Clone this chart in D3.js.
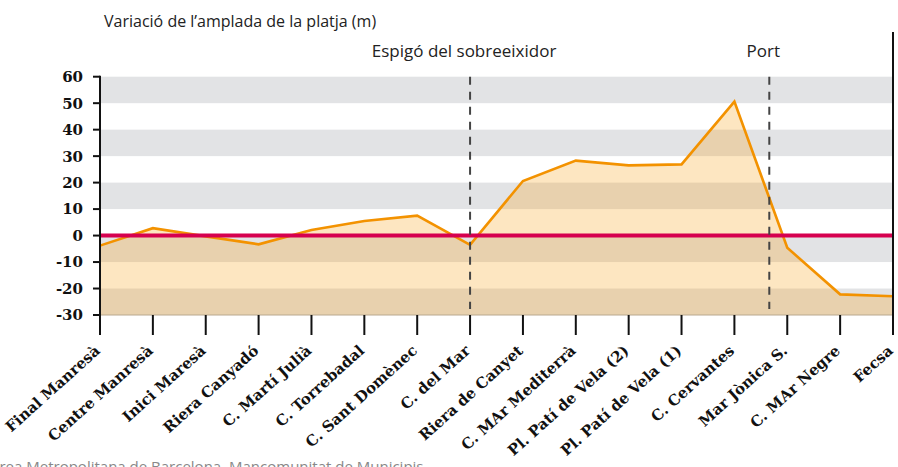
<!DOCTYPE html>
<html>
<head>
<meta charset="utf-8">
<script src="https://cdn.jsdelivr.net/npm/d3@7"></script>
<style>
  body { margin: 0; background: #fff; }
  svg { display: block; }
</style>
</head>
<body>
<svg width="898" height="467"></svg>
<script>
var categories = ["Final Manresà", "Centre Manresà", "Inici Maresà", "Riera Canyadó",
    "C. Martí Julià", "C. Torrebadal", "C. Sant Domènec", "C. del Mar",
    "Riera de Canyet", "C. MAr Mediterrà", "Pl. Patí de Vela (2)", "Pl. Patí de Vela (1)",
    "C. Cervantes", "Mar Jònica S.", "C. MAr Negre", "Fecsa"];
var values = [-3.8, 2.8, -0.3, -3.3, 2.1, 5.5, 7.5, -3.5, 20.6, 28.3, 26.5, 26.9, 50.6, -4.6, -22.2, -22.9];
var yTicks = [60, 50, 40, 30, 20, 10, 0, -10, -20, -30];
var markerLabels = ["Espigó del sobreeixidor", "Port"];
var markerPos = [7, 12.66];
var title = "Variació de l’amplada de la platja (m)";
var source = "Àrea Metropolitana de Barcelona. Mancomunitat de Municipis";

function drawChart () {
    var svg = d3.select("svg"),
        left = 100, right = 893, top = 76.7, bottom = 315;

    var x = d3.scaleLinear().domain([0, categories.length - 1]).range([left, right]);
    var y = d3.scaleLinear().domain([-30, 60]).range([bottom, top]);

    // alternating grey bands
    var bands = d3.range(60, -30, -20);
    svg.append("g").selectAll("rect")
        .data(bands)
        .enter().append("rect")
            .attr("x", left)
            .attr("y", function(d) { return y(d); })
            .attr("width", right - left)
            .attr("height", function(d) { return y(d - 10) - y(d); })
            .attr("fill", "#e2e3e5");

    var area = d3.area()
        .x(function(d, i) { return x(i); })
        .y0(y(-30))
        .y1(function(d) { return y(d); });

    var line = d3.line()
        .x(function(d, i) { return x(i); })
        .y(function(d) { return y(d); });

    svg.append("path")
        .datum(values)
        .attr("d", area)
        .attr("fill", "#f7a11a")
        .attr("fill-opacity", 0.27);

    // x axis baseline
    svg.append("line")
        .attr("x1", left).attr("x2", right)
        .attr("y1", bottom).attr("y2", bottom)
        .attr("stroke", "#b9a88f")
        .attr("stroke-width", 1);

    svg.append("path")
        .datum(values)
        .attr("d", line)
        .attr("fill", "none")
        .attr("stroke", "#f39200")
        .attr("stroke-width", 2.6)
        .attr("stroke-linejoin", "miter");

    // zero line
    svg.append("line")
        .attr("x1", left).attr("x2", right)
        .attr("y1", y(0)).attr("y2", y(0))
        .attr("stroke", "#d6004f")
        .attr("stroke-width", 4);

    // dashed markers
    var mk = svg.append("g").selectAll("g")
        .data(markerPos)
        .enter().append("g");

    mk.append("line")
        .attr("x1", function(d) { return x(d); })
        .attr("x2", function(d) { return x(d); })
        .attr("y1", y(60))
        .attr("y2", y(-30) - 6)
        .attr("stroke", "#444")
        .attr("stroke-width", 2)
        .attr("stroke-dasharray", "8,7");

    mk.append("text")
        .attr("x", function(d) { return x(d) - 6; })
        .attr("y", 57)
        .attr("text-anchor", "middle")
        .style("font", "17px 'Open Sans', sans-serif")
        .attr("fill", "#222")
        .text(function(d, i) { return markerLabels[i]; });

    // y axis
    svg.append("line")
        .attr("x1", left).attr("x2", left)
        .attr("y1", top - 1).attr("y2", bottom + 20)
        .attr("stroke", "#111").attr("stroke-width", 2);

    var yg = svg.append("g").selectAll("g")
        .data(yTicks)
        .enter().append("g")
            .attr("transform", function(d) { return "translate(0," + y(d) + ")"; });

    yg.append("line")
        .attr("x1", left - 7).attr("x2", left)
        .attr("stroke", "#111").attr("stroke-width", 2);

    yg.append("text")
        .attr("x", left - 17)
        .attr("dy", "0.36em")
        .attr("text-anchor", "end")
        .style("font", "bold 15px 'DejaVu Serif', serif")
        .attr("fill", "#111")
        .text(function(d) { return d; });

    // x ticks and labels
    var xg = svg.append("g").selectAll("g")
        .data(categories)
        .enter().append("g")
            .attr("transform", function(d, i) { return "translate(" + x(i) + ",0)"; });

    xg.append("line")
        .attr("y1", bottom).attr("y2", bottom + 20)
        .attr("stroke", "#111").attr("stroke-width", 2);

    xg.append("text")
        .attr("text-anchor", "end")
        .attr("transform", "translate(1,352) rotate(-42)")
        .style("font", "bold 15px 'DejaVu Serif', serif")
        .attr("fill", "#111")
        .text(function(d) { return d; });

    // right frame line
    svg.append("line")
        .attr("x1", right).attr("x2", right)
        .attr("y1", 32).attr("y2", bottom + 20)
        .attr("stroke", "#111").attr("stroke-width", 2);

    svg.append("text")
        .attr("x", 104)
        .attr("y", 27)
        .style("font", "16px 'Open Sans', sans-serif")
        .attr("fill", "#222")
        .text(title);

    svg.append("text")
        .attr("x", -10)
        .attr("y", 472)
        .style("font", "15px 'Open Sans', sans-serif")
        .attr("fill", "#888")
        .text(source);
}

drawChart();
</script>
</body>
</html>
